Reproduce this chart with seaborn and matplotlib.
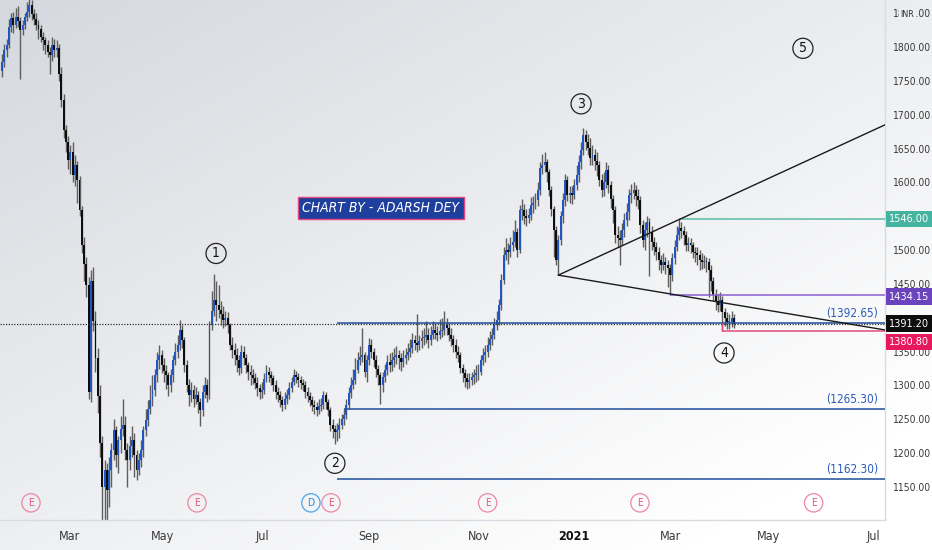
import numpy as np
import pandas as pd
import matplotlib
matplotlib.use("Agg")
import matplotlib.pyplot as plt
import matplotlib.transforms as mtransforms
import seaborn as sns

# daily candles (open of each bar = close of the bar before)
first_open = 1765
closes = [
    1778, 1795, 1803, 1830, 1843, 1832, 1845, 1838, 1825, 1833,
    1845, 1852, 1862, 1848, 1842, 1833, 1826, 1815, 1810, 1803,
    1792, 1788, 1803, 1795, 1798, 1760, 1722, 1677, 1660, 1633,
    1645, 1611, 1625, 1603, 1559, 1508, 1480, 1448, 1290, 1455,
    1395, 1340, 1285, 1215, 1150, 1175, 1146, 1175, 1205, 1234,
    1197, 1219, 1235, 1242, 1205, 1190, 1210, 1219, 1197, 1175,
    1190, 1205, 1234, 1249, 1265, 1279, 1293, 1315, 1338, 1345,
    1330, 1322, 1315, 1301, 1315, 1338, 1350, 1360, 1382, 1367,
    1330, 1300, 1286, 1293, 1280, 1286, 1275, 1264, 1290, 1301,
    1286, 1389, 1410, 1426, 1419, 1411, 1405, 1397, 1400, 1389,
    1360, 1352, 1345, 1338, 1326, 1349, 1340, 1330, 1320, 1315,
    1311, 1304, 1296, 1290, 1293, 1310, 1320, 1315, 1311, 1301,
    1290, 1286, 1279, 1271, 1280, 1286, 1296, 1305, 1315, 1312,
    1308, 1304, 1301, 1290, 1285, 1279, 1271, 1268, 1264, 1270,
    1271, 1286, 1275, 1264, 1242, 1235, 1231, 1234, 1242, 1250,
    1256, 1271, 1289, 1300, 1308, 1323, 1338, 1342, 1345, 1320,
    1338, 1360, 1350, 1338, 1325, 1315, 1301, 1312, 1323, 1335,
    1330, 1338, 1342, 1345, 1340, 1335, 1340, 1345, 1350, 1355,
    1367, 1362, 1360, 1365, 1370, 1372, 1375, 1367, 1375, 1382,
    1378, 1375, 1380, 1382, 1389, 1385, 1375, 1368, 1360, 1350,
    1345, 1326, 1318, 1311, 1305, 1308, 1312, 1315, 1318, 1320,
    1338, 1345, 1349, 1360, 1368, 1375, 1390, 1397, 1419, 1456,
    1493, 1500, 1497, 1507, 1512, 1527, 1500, 1559, 1559, 1550,
    1547, 1552, 1567, 1570, 1574, 1589, 1621, 1625, 1630, 1615,
    1589, 1560, 1530, 1485, 1515, 1550, 1574, 1604, 1581, 1585,
    1581, 1596, 1611, 1630, 1648, 1670, 1660, 1651, 1636, 1640,
    1632, 1626, 1604, 1589, 1600, 1618, 1596, 1575, 1559, 1522,
    1518, 1515, 1530, 1545, 1556, 1581, 1585, 1589, 1580, 1574,
    1537, 1515, 1530, 1541, 1527, 1512, 1505, 1497, 1485, 1478,
    1482, 1478, 1473, 1463, 1488, 1505, 1522, 1533, 1528, 1522,
    1507, 1510, 1507, 1497, 1495, 1493, 1485, 1482, 1484, 1482,
    1470, 1455, 1434, 1425, 1419, 1426, 1408, 1400, 1394, 1394,
    1400, 1391.2,
]
highs = [
    1790, 1805, 1812, 1842, 1850, 1852, 1858, 1860, 1845, 1840,
    1850, 1866, 1875, 1870, 1856, 1850, 1840, 1832, 1822, 1815,
    1810, 1800, 1815, 1812, 1810, 1805, 1770, 1730, 1685, 1668,
    1655, 1660, 1640, 1632, 1610, 1565, 1520, 1490, 1460, 1470,
    1475, 1410, 1355, 1300, 1225, 1190, 1185, 1195, 1215, 1250,
    1240, 1225, 1255, 1280, 1255, 1215, 1225, 1240, 1230, 1205,
    1200, 1220, 1240, 1265, 1278, 1300, 1315, 1325, 1350, 1360,
    1352, 1340, 1330, 1320, 1325, 1345, 1362, 1375, 1396, 1390,
    1372, 1338, 1310, 1305, 1300, 1298, 1292, 1282, 1300, 1312,
    1310, 1395, 1440, 1465, 1455, 1448, 1425, 1418, 1410, 1408,
    1392, 1372, 1362, 1356, 1345, 1360, 1358, 1346, 1335, 1330,
    1325, 1318, 1312, 1302, 1305, 1318, 1330, 1328, 1322, 1316,
    1308, 1298, 1292, 1285, 1290, 1295, 1305, 1312, 1325, 1322,
    1318, 1314, 1310, 1306, 1298, 1290, 1284, 1278, 1275, 1280,
    1282, 1292, 1290, 1280, 1268, 1250, 1242, 1245, 1252, 1258,
    1265, 1280, 1298, 1312, 1325, 1340, 1350, 1358, 1385, 1350,
    1345, 1370, 1368, 1356, 1345, 1330, 1320, 1320, 1332, 1345,
    1348, 1350, 1355, 1358, 1352, 1348, 1352, 1355, 1362, 1368,
    1378, 1375, 1405, 1375, 1382, 1385, 1395, 1385, 1388, 1395,
    1392, 1388, 1398, 1400, 1410, 1400, 1392, 1385, 1375, 1368,
    1358, 1350, 1332, 1325, 1318, 1318, 1320, 1325, 1330, 1332,
    1345, 1355, 1360, 1372, 1380, 1385, 1400, 1410, 1428, 1465,
    1505, 1518, 1510, 1520, 1530, 1545, 1532, 1566, 1575, 1568,
    1560, 1562, 1578, 1580, 1585, 1600, 1630, 1642, 1645, 1635,
    1620, 1595, 1565, 1535, 1522, 1558, 1585, 1612, 1610, 1595,
    1595, 1605, 1625, 1640, 1660, 1680, 1678, 1672, 1665, 1655,
    1650, 1645, 1632, 1612, 1615, 1630, 1625, 1602, 1582, 1565,
    1535, 1530, 1540, 1555, 1570, 1590, 1598, 1600, 1596, 1590,
    1580, 1545, 1542, 1550, 1548, 1535, 1520, 1512, 1505, 1492,
    1495, 1490, 1485, 1480, 1495, 1515, 1535, 1546, 1542, 1535,
    1528, 1520, 1518, 1512, 1505, 1505, 1500, 1495, 1492, 1490,
    1488, 1478, 1460, 1442, 1435, 1438, 1432, 1415, 1408, 1405,
    1410, 1405,
]
lows = [
    1755, 1770, 1785, 1798, 1822, 1820, 1828, 1830, 1752, 1818,
    1826, 1838, 1845, 1840, 1832, 1825, 1812, 1808, 1795, 1790,
    1785, 1760, 1780, 1785, 1785, 1750, 1712, 1665, 1645, 1620,
    1612, 1600, 1595, 1570, 1550, 1495, 1455, 1430, 1280, 1275,
    1380, 1320, 1260, 1195, 1090, 1095, 1100, 1120, 1150, 1190,
    1180, 1170, 1200, 1225, 1190, 1150, 1175, 1195, 1165, 1160,
    1168, 1180, 1195, 1225, 1240, 1258, 1270, 1285, 1305, 1325,
    1318, 1305, 1295, 1285, 1290, 1305, 1330, 1340, 1352, 1355,
    1320, 1290, 1270, 1275, 1268, 1272, 1260, 1240, 1255, 1282,
    1275, 1280, 1382, 1402, 1395, 1400, 1390, 1385, 1388, 1378,
    1352, 1340, 1330, 1320, 1315, 1318, 1330, 1318, 1308, 1300,
    1302, 1295, 1285, 1280, 1282, 1288, 1305, 1305, 1300, 1292,
    1280, 1275, 1268, 1262, 1265, 1272, 1280, 1290, 1300, 1303,
    1298, 1295, 1292, 1282, 1275, 1270, 1262, 1258, 1255, 1258,
    1262, 1265, 1265, 1255, 1232, 1222, 1214, 1218, 1222, 1235,
    1242, 1250, 1265, 1282, 1295, 1302, 1318, 1330, 1335, 1312,
    1305, 1330, 1340, 1328, 1312, 1300, 1272, 1290, 1305, 1315,
    1320, 1322, 1328, 1332, 1325, 1322, 1328, 1332, 1338, 1342,
    1348, 1352, 1350, 1352, 1356, 1360, 1362, 1355, 1360, 1368,
    1368, 1365, 1368, 1372, 1375, 1375, 1365, 1358, 1350, 1340,
    1335, 1318, 1305, 1298, 1295, 1296, 1300, 1302, 1305, 1308,
    1315, 1330, 1335, 1342, 1352, 1360, 1368, 1382, 1390, 1412,
    1450, 1485, 1480, 1490, 1498, 1505, 1490, 1495, 1545, 1538,
    1535, 1540, 1545, 1555, 1560, 1565, 1582, 1612, 1615, 1600,
    1580, 1550, 1490, 1478, 1463, 1508, 1540, 1565, 1572, 1570,
    1568, 1575, 1588, 1600, 1620, 1640, 1648, 1640, 1625, 1625,
    1618, 1610, 1595, 1578, 1580, 1592, 1585, 1562, 1540, 1510,
    1505, 1478, 1508, 1520, 1535, 1545, 1570, 1575, 1565, 1560,
    1525, 1505, 1500, 1520, 1462, 1500, 1492, 1485, 1470, 1466,
    1470, 1465, 1445, 1434.15, 1455, 1480, 1498, 1515, 1518, 1508,
    1498, 1498, 1495, 1488, 1482, 1478, 1470, 1472, 1474, 1468,
    1430, 1440, 1425, 1412, 1408, 1410, 1380.8, 1388, 1384, 1384,
    1386, 1385,
]

month_ticks = [29.4, 70.6, 114, 161, 209, 251, 293.4, 336, 382]
month_labels = ["Mar", "May", "Jul", "Sep", "Nov", "2021", "Mar", "May", "Jul"]
# 1550 and 1400 sit under the price tags, so they are left out
price_ticks = [1150, 1200, 1250, 1300, 1350, 1450, 1500, 1600,
               1650, 1700, 1750, 1800, 1850]

# drawn levels: (price, first bar, colour)
levels = [(1392.65, 147, "#1f4e9a"), (1265.30, 150, "#1f4e9a"), (1162.30, 147, "#1f4e9a"),
          (1546.00, 297, "#5cb8a8"), (1434.15, 293, "#8a5fd0"), (1380.80, 316, "#e04a7c")]
level_notes = [1392.65, 1265.30, 1162.30]
tags = [(1546.00, "#44b39f", 0), (1434.15, "#6a43bf", -2), (1391.20, "#0d0d0d", 0),
        (1380.80, "#e8185c", -11)]
last_price = 1391.20

trend_bars = [244, 387.3, 244, 387.3]
trend_prices = [1463, 1685, 1463, 1382]
trend_legs = ["up", "up", "down", "down"]

wave_labels = ["1", "2", "3", "4", "5"]
wave_bars = [93.9, 146, 254, 316.7, 351.3]
wave_prices = [1495, 1185, 1716, 1348, 1798]

earnings_bars = [12.7, 85.5, 144.3, 213, 279.8, 356]
dividend_bars = [135.5]

n = len(closes)
df = pd.DataFrame({"bar": np.arange(n), "close": closes, "high": highs[:n], "low": lows[:n]})
df["open"] = [first_open] + closes[:-1]
df["high"] = df[["high", "open", "close"]].max(axis=1)
df["low"] = df[["low", "open", "close"]].min(axis=1)

sns.set_style("white")
plt.rcParams["font.family"] = ["DejaVu Sans"]
plt.rcParams["font.stretch"] = "condensed"

fig = plt.figure(figsize=(9.32, 5.5), dpi=100)

# soft diagonal gradient behind everything
bg = fig.add_axes([0, 0, 1, 1], zorder=-5)
yy, xx = np.mgrid[0:1:200j, 0:1:300j]
t = np.clip(0.55 * xx + 0.6 * yy, 0, 1)
dark = np.array([0.835, 0.847, 0.870])
light = np.array([1.0, 1.0, 1.0])
grad = dark[None, None, :] * (1 - t[..., None]) + light[None, None, :] * t[..., None]
bg.imshow(grad, aspect="auto", extent=[0, 1, 0, 1], origin="upper")
bg.axis("off")

ax = fig.add_axes([0, 30 / 550, 885 / 932, 520 / 550])
ax.set_facecolor("none")
ax.set_xlim(-0.88, 387.3)
ax.set_ylim(1101.25, 1869.4)

# candles
up = df["close"] >= df["open"]
ax.vlines(df["bar"], df["low"], df["high"], color="#5e5e5e", lw=1.0, zorder=2)
body_lo = df[["open", "close"]].min(axis=1)
body_h = (df["close"] - df["open"]).abs().clip(lower=1.2)
ax.bar(df["bar"], body_h, bottom=body_lo, width=0.85,
       color=np.where(up, "#1f56c4", "#0e0e0e"), linewidth=0, zorder=3)

blend_x = mtransforms.blended_transform_factory(ax.transAxes, ax.transData)
blend_y = mtransforms.blended_transform_factory(ax.transData, ax.transAxes)

# last price dotted line
ax.axhline(last_price, color="#333333", lw=0.9, ls=(0, (1, 1.2)), zorder=4)

for price, start, col in levels:
    ax.hlines(price, start, 387.3, color=col, lw=1.1, zorder=4)
ax.vlines(316, 1380.8, 1392.0, color="#e04a7c", lw=1.0, zorder=4)

for price in level_notes:
    ax.annotate(f"({price:.2f})", xy=(0.992, price), xycoords=blend_x,
                xytext=(0, 3), textcoords="offset pixels", ha="right", va="bottom",
                fontsize=8.5, color="#2a5ab8")

trend = pd.DataFrame({"bar": trend_bars, "price": trend_prices, "leg": trend_legs})
sns.lineplot(data=trend, x="bar", y="price", units="leg", estimator=None,
             color="#1a1a1a", lw=1.0, ax=ax, legend=False, zorder=5)

for lab, b, p in zip(wave_labels, wave_bars, wave_prices):
    ax.text(b, p, lab, ha="center", va="center", fontsize=10, color="#111111", zorder=6,
            bbox=dict(boxstyle="circle,pad=0.22", fc="none", ec="#222222", lw=0.9))

for b in earnings_bars:
    ax.text(b, 0.033, "E", transform=blend_y, ha="center", va="center", fontsize=7.5,
            color="#e3577f", zorder=6,
            bbox=dict(boxstyle="circle,pad=0.4", fc="none", ec="#ec86a3", lw=0.9))
for b in dividend_bars:
    ax.text(b, 0.033, "D", transform=blend_y, ha="center", va="center", fontsize=7.5,
            color="#2a8fe0", zorder=6,
            bbox=dict(boxstyle="circle,pad=0.4", fc="none", ec="#4aa6ee", lw=0.9))

ax.text(166.2, 1562, "CHART BY - ADARSH DEY", ha="center", va="center", fontsize=10,
        style="italic", color="white", zorder=7,
        bbox=dict(boxstyle="square,pad=0.3", fc="#1f3f9e", ec="#e5457a", lw=1))

# price axis
ax.yaxis.tick_right()
ax.set_yticks(price_ticks)
ax.set_yticklabels([f"{p:.2f}" for p in price_ticks])
ax.tick_params(axis="y", length=0, pad=5, labelsize=7.5, labelcolor="#3a3a3a")
ax.set_xticks(month_ticks)
ax.set_xticklabels(month_labels)
ax.tick_params(axis="x", length=0, pad=7, labelsize=9, labelcolor="#3a3a3a")
for lbl in ax.get_xticklabels():
    if lbl.get_text() == "2021":
        lbl.set_color("#111111")
        lbl.set_fontweight("semibold")

for price, col, off in tags:
    ax.annotate(f"{price:.2f}", xy=(1.0, price), xycoords=blend_x,
                xytext=(4, off), textcoords="offset pixels", ha="left", va="center",
                fontsize=7.8, color="white", zorder=8, annotation_clip=False,
                bbox=dict(boxstyle="square,pad=0.3", fc=col, ec="none"))

ax.annotate("INR", xy=(1.0, 1850), xycoords=blend_x, xytext=(15, -1),
            textcoords="offset pixels", ha="left", va="center", fontsize=6.5,
            color="#333333", annotation_clip=False,
            bbox=dict(boxstyle="square,pad=0.1", fc="#eef0f3", ec="none"))

ax.set_xlabel("")
ax.set_ylabel("")
for side in ["top", "left"]:
    ax.spines[side].set_visible(False)
for side in ["bottom", "right"]:
    ax.spines[side].set_color("#d8dbe2")
    ax.spines[side].set_linewidth(1)

fig.savefig("out.png", dpi=100)
